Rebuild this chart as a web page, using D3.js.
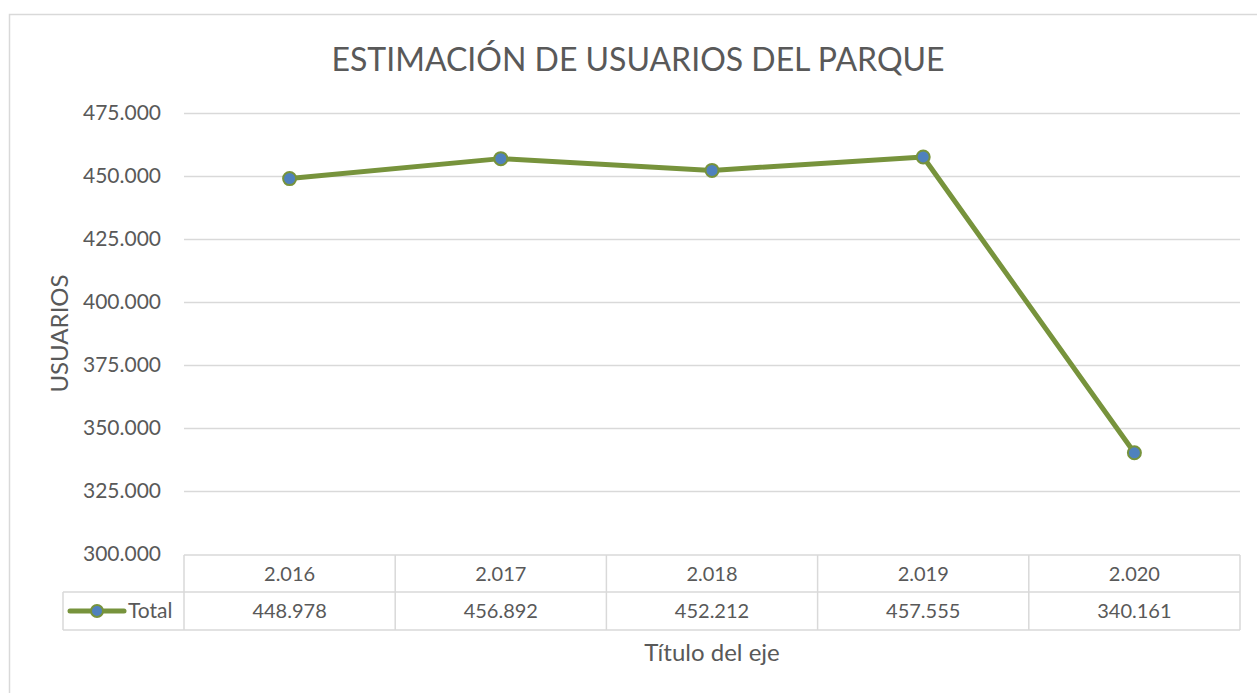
<!DOCTYPE html>
<html>
<head>
<meta charset="utf-8">
<script src="https://cdn.jsdelivr.net/npm/d3@7"></script>
<style>
  body { margin: 0; background: #fff; }
  svg { display: block; font-family: Lato, "Open Sans", sans-serif; }
</style>
</head>
<body>
<div id="chart"></div>
<script>
// Chart data
const years = [2016, 2017, 2018, 2019, 2020];
const totals = [448978, 456892, 452212, 457555, 340161];
const yTicks = [300000, 325000, 350000, 375000, 400000, 425000, 450000, 475000];
const seriesName = "Total";
const chartTitle = "ESTIMACIÓN DE USUARIOS DEL PARQUE";
const yTitle = "USUARIOS";
const xTitle = "Título del eje";

const width = 1257;
const height = 693;
const textColor = "#595959";
const gridColor = "#d9d9d9";
const lineColor = "#77933c";
const markerColor = "#4f81bd";

// Spanish number format: dot for thousands
const locale = d3.formatLocale({ decimal: ",", thousands: ".", grouping: [3], currency: ["", "€"] });
const fmt = locale.format(",d");

const svg = d3.select("#chart")
  .append("svg")
  .attr("width", width)
  .attr("height", height);

// Chart area border
svg.append("rect")
  .attr("x", 9.5)
  .attr("y", 14.5)
  .attr("width", 1300)
  .attr("height", 800)
  .attr("fill", "#fff")
  .attr("stroke", gridColor)
  .attr("stroke-width", 1.5);

const plot = { left: 184, right: 1240, top: 113, bottom: 554 };

const x = d3.scaleBand()
  .domain(years)
  .range([plot.left, plot.right])
  .padding(0);

const y = d3.scaleLinear()
  .domain([d3.min(yTicks), d3.max(yTicks)])
  .range([plot.bottom, plot.top]);

// Title
svg.append("text")
  .attr("x", 638)
  .attr("y", 71)
  .attr("text-anchor", "middle")
  .attr("fill", textColor)
  .style("font-size", "32px")
  .text(chartTitle);

// Gridlines + tick labels
const yAxis = d3.axisLeft(y)
  .tickValues(yTicks)
  .tickSize(-(plot.right - plot.left))
  .tickPadding(23)
  .tickFormat(fmt);

const gy = svg.append("g")
  .attr("transform", `translate(${plot.left},0)`)
  .call(yAxis);

gy.select(".domain").remove();
gy.selectAll(".tick line")
  .attr("stroke", gridColor)
  .attr("stroke-width", 1.5)
  .filter(d => d === d3.min(yTicks))
  .remove();
gy.selectAll(".tick text")
  .attr("fill", textColor)
  .style("font-size", "21px")
  .style("font-family", "Lato, sans-serif");

// Y axis title
svg.append("text")
  .attr("transform", `translate(68,${(plot.top + plot.bottom) / 2}) rotate(-90)`)
  .attr("text-anchor", "middle")
  .attr("fill", textColor)
  .style("font-size", "24px")
  .text(yTitle);

// Data table under the plot
const rowTop = 555, rowMid = 592, rowBottom = 630, legendLeft = 63;
const table = svg.append("g").attr("class", "data-table");

table.selectAll("line.hline")
  .data([
    [plot.left, rowTop],
    [legendLeft, rowMid],
    [legendLeft, rowBottom]
  ])
  .enter()
  .append("line")
  .attr("x1", d => d[0])
  .attr("x2", plot.right)
  .attr("y1", d => d[1])
  .attr("y2", d => d[1])
  .attr("stroke", gridColor)
  .attr("stroke-width", 1.5);

table.selectAll("line.vline")
  .data(years.map(d => x(d)).concat([plot.right]))
  .enter()
  .append("line")
  .attr("x1", d => d)
  .attr("x2", d => d)
  .attr("y1", rowTop)
  .attr("y2", rowBottom)
  .attr("stroke", gridColor)
  .attr("stroke-width", 1.5);

table.append("line")
  .attr("x1", legendLeft)
  .attr("x2", legendLeft)
  .attr("y1", rowMid)
  .attr("y2", rowBottom)
  .attr("stroke", gridColor)
  .attr("stroke-width", 1.5);

table.selectAll("text.year")
  .data(years)
  .enter()
  .append("text")
  .attr("x", d => x(d) + x.bandwidth() / 2)
  .attr("y", (rowTop + rowMid) / 2)
  .attr("dy", "0.35em")
  .attr("text-anchor", "middle")
  .attr("fill", textColor)
  .style("font-size", "20px")
  .text(d => fmt(d));

table.selectAll("text.value")
  .data(totals)
  .enter()
  .append("text")
  .attr("x", (d, i) => x(years[i]) + x.bandwidth() / 2)
  .attr("y", (rowMid + rowBottom) / 2)
  .attr("dy", "0.35em")
  .attr("text-anchor", "middle")
  .attr("fill", textColor)
  .style("font-size", "20px")
  .text(d => fmt(d));

// Legend key in the table
const keyY = (rowMid + rowBottom) / 2;
table.append("line")
  .attr("x1", 70)
  .attr("x2", 124)
  .attr("y1", keyY)
  .attr("y2", keyY)
  .attr("stroke", lineColor)
  .attr("stroke-width", 5)
  .attr("stroke-linecap", "round");
table.append("circle")
  .attr("cx", 97)
  .attr("cy", keyY)
  .attr("r", 6)
  .attr("fill", markerColor)
  .attr("stroke", lineColor)
  .attr("stroke-width", 2);
table.append("text")
  .attr("x", 128)
  .attr("y", keyY)
  .attr("dy", "0.35em")
  .attr("fill", textColor)
  .style("font-size", "21px")
  .text(seriesName);

// X axis title
svg.append("text")
  .attr("x", (plot.left + plot.right) / 2)
  .attr("y", 661)
  .attr("text-anchor", "middle")
  .attr("fill", textColor)
  .style("font-size", "24px")
  .text(xTitle);

// Series line
const points = years.map((d, i) => ({ year: d, value: totals[i] }));
const line = d3.line()
  .x(d => x(d.year) + x.bandwidth() / 2)
  .y(d => y(d.value));

svg.append("path")
  .datum(points)
  .attr("fill", "none")
  .attr("stroke", lineColor)
  .attr("stroke-width", 5)
  .attr("stroke-linejoin", "round")
  .attr("stroke-linecap", "round")
  .attr("d", line);

svg.selectAll("circle.point")
  .data(points)
  .enter()
  .append("circle")
  .attr("class", "point")
  .attr("cx", d => x(d.year) + x.bandwidth() / 2)
  .attr("cy", d => y(d.value))
  .attr("r", 6.5)
  .attr("fill", markerColor)
  .attr("stroke", lineColor)
  .attr("stroke-width", 2);
</script>
</body>
</html>
